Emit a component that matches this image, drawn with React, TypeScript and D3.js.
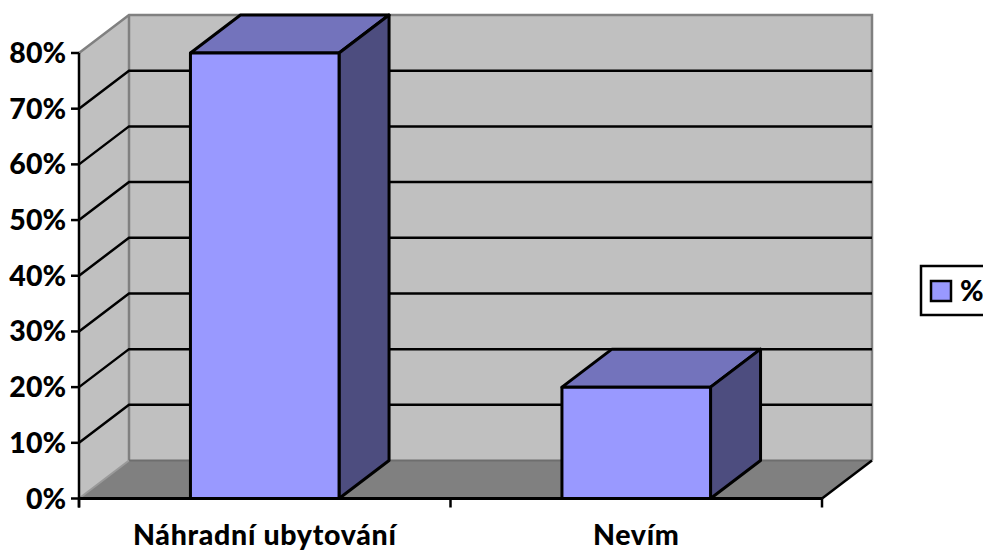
import React from "react";
import * as d3 from "d3";

const categories = ["Náhradní ubytování", "Nevím"];
const values = [80, 20];
const yTicks = [0, 10, 20, 30, 40, 50, 60, 70, 80];
const seriesName = "%";

const W = 983, H = 552;
const left = 79, right = 822, bottom = 498.5, top = 53;
const dx = 50, dy = -38;
const font = "Lato, Carlito, sans-serif";

export default function App() {
  const y = d3.scaleLinear().domain([0, 80]).range([bottom, top]);
  const x = d3.scaleBand<string>().domain(categories).range([left, right]).paddingInner(0.6).paddingOuter(0.3);
  const x0 = d3.scaleBand<string>().domain(categories).range([left, right]);
  const poly = (p: number[][]) => p.map((q) => q.join(",")).join(" ");
  const k = "#000";
  return (
    <svg width={W} height={H} style={{ position: "absolute", left: 0, top: 0, background: "#fff" }}>
      {/* walls */}
      <polygon points={poly([[left + dx, top + dy], [right + dx + 0, top + dy], [right + dx, bottom + dy], [left + dx, bottom + dy]])} fill="#c0c0c0" />
      <polygon points={poly([[left, top], [left + dx, top + dy], [left + dx, bottom + dy], [left, bottom]])} fill="#c0c0c0" />
      <polygon points={poly([[left, bottom], [left + dx, bottom + dy], [right + dx, bottom + dy], [right, bottom]])} fill="#808080" />
      {/* wall edges */}
      <polyline points={poly([[left, top], [left + dx, top + dy], [right + dx, top + dy], [right + dx, bottom + dy]])} fill="none" stroke="#808080" strokeWidth={2.5} />
      <line x1={left + dx} x2={left + dx} y1={top + dy} y2={bottom + dy} stroke="#808080" strokeWidth={2.5} />
      <line x1={left + dx} x2={right + dx} y1={bottom + dy} y2={bottom + dy} stroke="#6e6e6e" strokeWidth={2} />
      <line x1={left} x2={left + dx} y1={bottom} y2={bottom + dy} stroke="#9a9a9a" strokeWidth={2} />
      <line x1={right} x2={right + dx} y1={bottom} y2={bottom + dy} stroke={k} strokeWidth={2.5} />
      {/* gridlines */}
      {yTicks.filter((t) => t > 0 && t < 80).map((t) => (
        <polyline key={t} points={poly([[left, y(t)], [left + dx, y(t) + dy], [right + dx, y(t) + dy]])} fill="none" stroke={k} strokeWidth={2.5} />
      ))}
      {/* bars */}
      {categories.map((c, i) => {
        const x1 = x(c)!;
        const x2 = x1 + x.bandwidth();
        const yt = y(values[i]);
        return (
          <g key={c} stroke={k} strokeWidth={3} strokeLinejoin="round">
            <polygon points={poly([[x1, yt], [x1 + dx, yt + dy], [x2 + dx, yt + dy], [x2, yt]])} fill="#7373bc" />
            <polygon points={poly([[x2, yt], [x2 + dx, yt + dy], [x2 + dx, bottom + dy], [x2, bottom]])} fill="#4d4d7f" />
            <rect x={x1} y={yt} width={x2 - x1} height={bottom - yt} fill="#9999ff" />
          </g>
        );
      })}
      {/* axes */}
      <line x1={left} x2={left} y1={top} y2={bottom + 9} stroke={k} strokeWidth={2.5} />
      <line x1={left} x2={right} y1={bottom} y2={bottom} stroke={k} strokeWidth={3} />
      {yTicks.map((t) => (
        <g key={t}>
          <line x1={left - 8} x2={left} y1={y(t)} y2={y(t)} stroke={k} strokeWidth={2.5} />
          <text x={66} y={y(t) + 10} textAnchor="end" fontFamily={font} fontWeight={900} fontSize={28.5} fill={k}>{t}%</text>
        </g>
      ))}
      {[...categories.map((c) => x0(c)!), right].map((v) => (
        <line key={v} x1={v} x2={v} y1={bottom} y2={bottom + 9} stroke={k} strokeWidth={2.5} />
      ))}
      {categories.map((c) => (
        <text key={c} x={x0(c)! + x0.bandwidth() / 2} y={545} textAnchor="middle" fontFamily={font} fontWeight={900} fontSize={28.5} letterSpacing={0.7} fill={k}>{c}</text>
      ))}
      {/* legend */}
      <rect x={921} y={266} width={70} height={49} fill="#fff" stroke={k} strokeWidth={2.5} />
      <rect x={931} y={281} width={20} height={20} fill="#9999ff" stroke={k} strokeWidth={2.5} />
      <text x={960} y={301} fontFamily={font} fontWeight={900} fontSize={28.5} fill={k}>{seriesName}</text>
    </svg>
  );
}
